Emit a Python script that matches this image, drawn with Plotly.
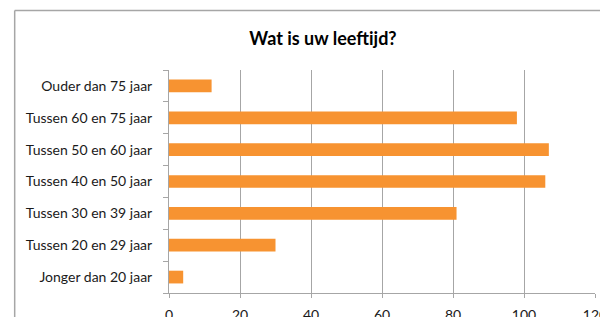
import plotly.graph_objects as go

categories = ["Jonger dan 20 jaar", "Tussen 20 en 29 jaar", "Tussen 30 en 39 jaar",
              "Tussen 40 en 50 jaar", "Tussen 50 en 60 jaar", "Tussen 60 en 75 jaar",
              "Ouder dan 75 jaar"]
values = [4, 30, 81, 106, 107, 98, 12]
x_ticks = [0, 20, 40, 60, 80, 100, 120]
title = "Wat is uw leeftijd?"

# page body has an 8px margin; work in window pixels and convert
OFF = 8
W, H = 608 - OFF, 317 - OFF
L, R, T, B = 168.5 - OFF, 595 - OFF, 70 - OFF, 293.3 - OFF

fig = go.Figure(go.Bar(
    x=values, y=categories, orientation="h",
    marker=dict(color="#F79331", line=dict(width=0)),
    width=0.4,
))

def px_x(p):
    return (p - OFF - L) / (R - L)

def px_y(p):
    return (B - (p - OFF)) / (B - T)

line_col = "#A6A6A6"
fig.add_shape(type="line", xref="paper", yref="paper",
              x0=px_x(14), x1=px_x(700), y0=px_y(10.5), y1=px_y(10.5),
              line=dict(color=line_col, width=1.5), layer="above")
fig.add_shape(type="line", xref="paper", yref="paper",
              x0=px_x(14), x1=px_x(14), y0=px_y(10.5), y1=px_y(400),
              line=dict(color=line_col, width=1.5), layer="above")

fig.update_layout(
    template="none",
    width=W, height=H,
    margin=dict(l=L, r=W - R, t=T, b=H - B, pad=0, autoexpand=False),
    paper_bgcolor="white", plot_bgcolor="white",
    showlegend=False,
    font=dict(family="Lato, Open Sans, sans-serif", size=14, color="#1a1a1a"),
    title=dict(text="<b>" + title + "</b>", xref="container", yref="container",
               x=(323 - OFF) / W, y=1 - (39 - OFF) / H, xanchor="center", yanchor="middle",
               font=dict(size=18, color="#000000", family="Lato, Open Sans, sans-serif")),
    xaxis=dict(range=[0, 120], tickvals=x_ticks, showgrid=True, gridcolor="#A6A6A6",
               gridwidth=1, zeroline=False, showline=True, linecolor="#A6A6A6",
               ticks="outside", ticklen=4, tickcolor="#A6A6A6", automargin=False,
               ticklabelstandoff=5, fixedrange=True),
    yaxis=dict(categoryorder="array", categoryarray=categories, automargin=False,
               showline=True, linecolor="#A6A6A6", ticks="outside", ticklen=5,
               tickcolor="#A6A6A6", tickson="boundaries", showgrid=False,
               zeroline=False, ticklabelstandoff=13, fixedrange=True),
)

fig.write_html("out.html")
